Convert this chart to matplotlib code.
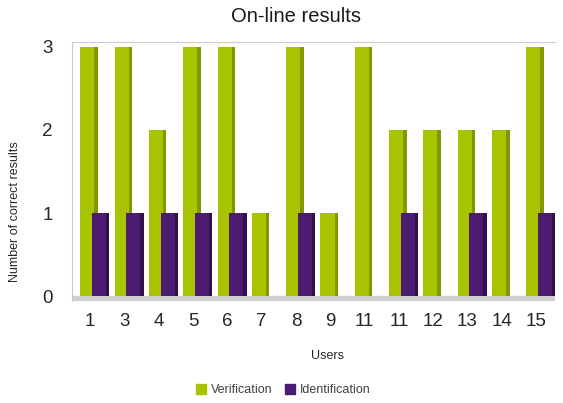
import numpy as np
from matplotlib import pyplot as plt
from matplotlib.patches import Patch

users = ["1", "3", "4", "5", "6", "7", "8", "9", "11", "11", "12", "13", "14", "15"]
verification = [3, 3, 2, 3, 3, 1, 3, 1, 3, 2, 2, 2, 2, 3]
identification = [1, 1, 1, 1, 1, 0, 1, 0, 0, 1, 0, 1, 0, 1]

green = "#a8c400"
green_dark = "#829800"
purple = "#4c1a6e"
purple_dark = "#33104c"

plt.rcParams['font.family'] = ['Liberation Sans', 'DejaVu Sans']

fig = plt.figure(figsize=(5.63, 4.03), dpi=100)
ax = fig.add_axes([72 / 563, 1 - 301 / 403, 483 / 563, 259 / 403])

x = np.arange(len(users))
w = 0.51
side = 0.1

# verification bars with darker side face
ax.bar(x - 0.03, verification, w, color=green, zorder=2)
ax.bar(x - 0.03 + w / 2 - side / 2, verification, side, color=green_dark, zorder=2)
# identification bars in front
ax.bar(x + 0.31, identification, w, color=purple, zorder=3)
ax.bar(x + 0.31 + w / 2 - side / 2, identification, side, color=purple_dark, zorder=3)

# grey floor
ax.axhspan(-0.05, 0.0, color="#cfcfcf", zorder=1)

ax.set_xlim(-0.525, len(users) - 1 + 0.55)
ax.set_ylim(-0.06, 3.06)
ax.set_xticks(x)
ax.set_xticklabels(users)
ax.set_yticks([0, 1, 2, 3])
ax.tick_params(length=0, labelsize=13.5, colors="#262626")
ax.tick_params(axis="y", pad=14)
ax.tick_params(axis="x", pad=9)
for s in ["right", "bottom"]:
    ax.spines[s].set_visible(False)
ax.spines["left"].set_color("#cccccc")
ax.spines["top"].set_color("#cccccc")

fig.text(296 / 563, 1 - 17 / 403, "On-line results", ha="center", va="center",
         fontsize=14.5, color="#1a1a1a")
fig.text(15 / 563, 1 - 212 / 403, "Number of correct results", rotation=90,
         ha="center", va="center", fontsize=9, color="#262626")
fig.text(327 / 563, 1 - 356 / 403, "Users", ha="center", va="center",
         fontsize=9, color="#262626")

handles = [Patch(color=green, label="Verification"), Patch(color=purple, label="Identification")]
leg = fig.legend(handles=handles, loc="center", bbox_to_anchor=(283 / 563, 1 - 390 / 403),
                 ncol=2, frameon=False, fontsize=9, handlelength=0.8, handleheight=0.8,
                 handletextpad=0.4, columnspacing=1.0)
for t in leg.get_texts():
    t.set_color("#404040")

fig.savefig("out.png", dpi=100)
